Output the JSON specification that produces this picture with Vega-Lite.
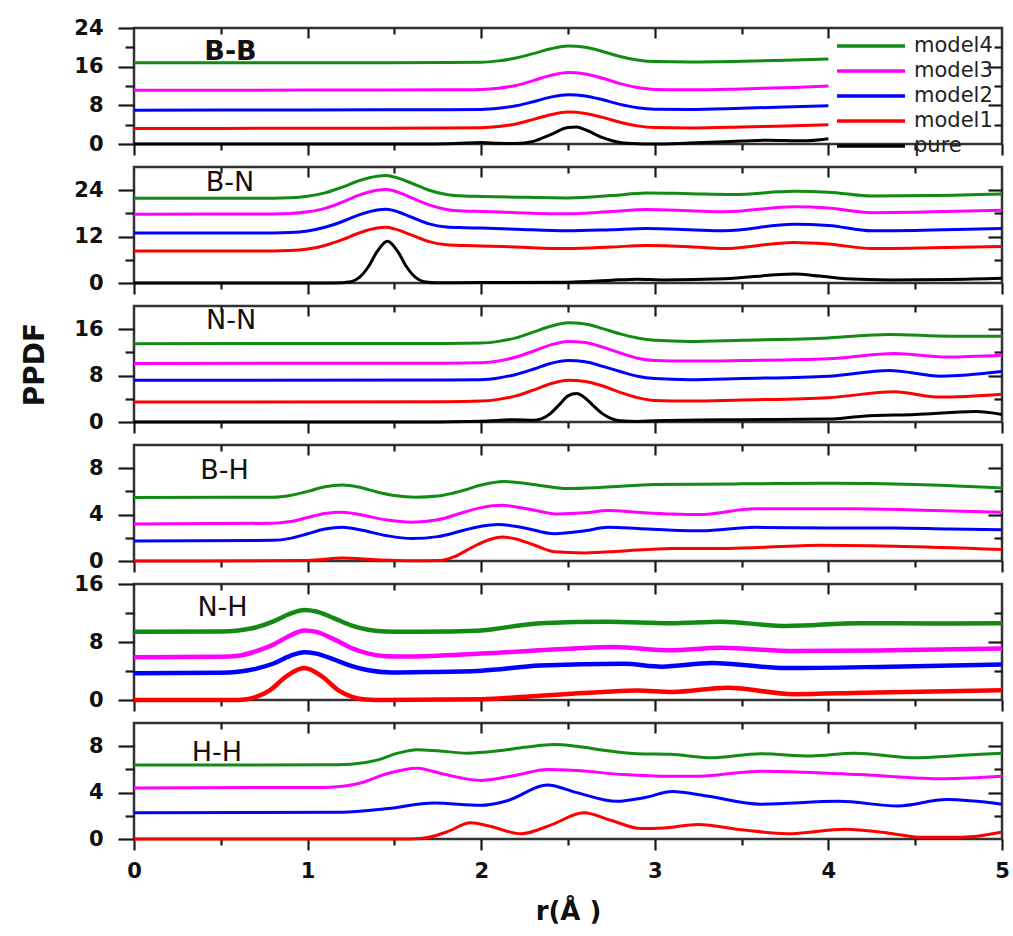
{
"$schema":"https://vega.github.io/schema/vega-lite/v6.json",
"padding":{"left":20,"top":15,"right":5,"bottom":5},
"bounds":"flush",
"spacing":23,
"resolve":{"scale":{"x":"independent","y":"independent","color":"independent"}},
"config":{
 "view":{"stroke":"#333","strokeWidth":2.5},
 "axis":{"grid":false,"domain":false,"tickColor":"#1a1a1a","tickWidth":2.2,"labelFont":"DejaVu Sans","labelFontWeight":"bold","labelFontSize":21,"labelColor":"#111","labelFlush":false,"labelOverlap":false,"titleFont":"DejaVu Sans","titleFontWeight":"bold","titleColor":"#111"}
},
"data":{"values":[
{"p":"B-B","s":"model4","r":0,"v":16.8},{"p":"B-B","s":"model4","r":1,"v":16.8},{"p":"B-B","s":"model4","r":1.8,"v":16.85},{"p":"B-B","s":"model4","r":2,"v":16.9},{"p":"B-B","s":"model4","r":2.1,"v":17.2},{"p":"B-B","s":"model4","r":2.2,"v":17.8},{"p":"B-B","s":"model4","r":2.3,"v":18.7},{"p":"B-B","s":"model4","r":2.4,"v":19.7},{"p":"B-B","s":"model4","r":2.5,"v":20.3},{"p":"B-B","s":"model4","r":2.6,"v":20.0},{"p":"B-B","s":"model4","r":2.7,"v":19.15},{"p":"B-B","s":"model4","r":2.8,"v":18.1},{"p":"B-B","s":"model4","r":2.9,"v":17.4},{"p":"B-B","s":"model4","r":3,"v":17.05},{"p":"B-B","s":"model4","r":3.2,"v":16.95},{"p":"B-B","s":"model4","r":3.5,"v":17.1},{"p":"B-B","s":"model4","r":3.8,"v":17.4},{"p":"B-B","s":"model4","r":4,"v":17.6},
{"p":"B-B","s":"model3","r":0,"v":11.1},{"p":"B-B","s":"model3","r":1,"v":11.15},{"p":"B-B","s":"model3","r":1.8,"v":11.2},{"p":"B-B","s":"model3","r":2,"v":11.3},{"p":"B-B","s":"model3","r":2.1,"v":11.55},{"p":"B-B","s":"model3","r":2.2,"v":12.1},{"p":"B-B","s":"model3","r":2.3,"v":13.1},{"p":"B-B","s":"model3","r":2.4,"v":14.2},{"p":"B-B","s":"model3","r":2.5,"v":14.8},{"p":"B-B","s":"model3","r":2.6,"v":14.5},{"p":"B-B","s":"model3","r":2.7,"v":13.6},{"p":"B-B","s":"model3","r":2.8,"v":12.5},{"p":"B-B","s":"model3","r":2.9,"v":11.7},{"p":"B-B","s":"model3","r":3,"v":11.3},{"p":"B-B","s":"model3","r":3.2,"v":11.2},{"p":"B-B","s":"model3","r":3.5,"v":11.4},{"p":"B-B","s":"model3","r":3.8,"v":11.7},{"p":"B-B","s":"model3","r":4,"v":12.0},
{"p":"B-B","s":"model2","r":0,"v":7.0},{"p":"B-B","s":"model2","r":1,"v":7.05},{"p":"B-B","s":"model2","r":1.8,"v":7.1},{"p":"B-B","s":"model2","r":2,"v":7.15},{"p":"B-B","s":"model2","r":2.1,"v":7.4},{"p":"B-B","s":"model2","r":2.2,"v":7.9},{"p":"B-B","s":"model2","r":2.3,"v":8.75},{"p":"B-B","s":"model2","r":2.4,"v":9.7},{"p":"B-B","s":"model2","r":2.5,"v":10.2},{"p":"B-B","s":"model2","r":2.6,"v":9.95},{"p":"B-B","s":"model2","r":2.7,"v":9.15},{"p":"B-B","s":"model2","r":2.8,"v":8.2},{"p":"B-B","s":"model2","r":2.9,"v":7.5},{"p":"B-B","s":"model2","r":3,"v":7.2},{"p":"B-B","s":"model2","r":3.2,"v":7.15},{"p":"B-B","s":"model2","r":3.5,"v":7.4},{"p":"B-B","s":"model2","r":3.8,"v":7.7},{"p":"B-B","s":"model2","r":4,"v":7.9},
{"p":"B-B","s":"model1","r":0,"v":3.2},{"p":"B-B","s":"model1","r":1,"v":3.25},{"p":"B-B","s":"model1","r":1.8,"v":3.3},{"p":"B-B","s":"model1","r":2,"v":3.35},{"p":"B-B","s":"model1","r":2.1,"v":3.6},{"p":"B-B","s":"model1","r":2.2,"v":4.15},{"p":"B-B","s":"model1","r":2.3,"v":5.1},{"p":"B-B","s":"model1","r":2.4,"v":6.05},{"p":"B-B","s":"model1","r":2.5,"v":6.6},{"p":"B-B","s":"model1","r":2.6,"v":6.3},{"p":"B-B","s":"model1","r":2.7,"v":5.5},{"p":"B-B","s":"model1","r":2.8,"v":4.5},{"p":"B-B","s":"model1","r":2.9,"v":3.75},{"p":"B-B","s":"model1","r":3,"v":3.4},{"p":"B-B","s":"model1","r":3.2,"v":3.3},{"p":"B-B","s":"model1","r":3.5,"v":3.5},{"p":"B-B","s":"model1","r":3.8,"v":3.8},{"p":"B-B","s":"model1","r":4,"v":4.0},
{"p":"B-B","s":"pure","r":0,"v":0},{"p":"B-B","s":"pure","r":1.7,"v":0},{"p":"B-B","s":"pure","r":1.85,"v":0.1},{"p":"B-B","s":"pure","r":2,"v":0.3},{"p":"B-B","s":"pure","r":2.1,"v":0.15},{"p":"B-B","s":"pure","r":2.2,"v":0.1},{"p":"B-B","s":"pure","r":2.3,"v":0.55},{"p":"B-B","s":"pure","r":2.4,"v":1.95},{"p":"B-B","s":"pure","r":2.5,"v":3.4},{"p":"B-B","s":"pure","r":2.55,"v":3.5},{"p":"B-B","s":"pure","r":2.6,"v":2.95},{"p":"B-B","s":"pure","r":2.7,"v":1.3},{"p":"B-B","s":"pure","r":2.8,"v":0.3},{"p":"B-B","s":"pure","r":2.9,"v":0.05},{"p":"B-B","s":"pure","r":3,"v":0},{"p":"B-B","s":"pure","r":3.2,"v":0.2},{"p":"B-B","s":"pure","r":3.5,"v":0.6},{"p":"B-B","s":"pure","r":3.65,"v":0.8},{"p":"B-B","s":"pure","r":3.85,"v":0.65},{"p":"B-B","s":"pure","r":4,"v":1.1},
{"p":"B-N","s":"model4","r":0,"v":21.9},{"p":"B-N","s":"model4","r":0.8,"v":21.95},{"p":"B-N","s":"model4","r":0.9,"v":22.05},{"p":"B-N","s":"model4","r":1,"v":22.45},{"p":"B-N","s":"model4","r":1.1,"v":23.3},{"p":"B-N","s":"model4","r":1.2,"v":24.8},{"p":"B-N","s":"model4","r":1.3,"v":26.5},{"p":"B-N","s":"model4","r":1.4,"v":27.6},{"p":"B-N","s":"model4","r":1.45,"v":27.8},{"p":"B-N","s":"model4","r":1.5,"v":27.4},{"p":"B-N","s":"model4","r":1.6,"v":25.8},{"p":"B-N","s":"model4","r":1.7,"v":24.0},{"p":"B-N","s":"model4","r":1.8,"v":22.9},{"p":"B-N","s":"model4","r":1.9,"v":22.5},{"p":"B-N","s":"model4","r":2,"v":22.4},{"p":"B-N","s":"model4","r":2.2,"v":22.2},{"p":"B-N","s":"model4","r":2.5,"v":22.0},{"p":"B-N","s":"model4","r":2.75,"v":22.6},{"p":"B-N","s":"model4","r":2.95,"v":23.3},{"p":"B-N","s":"model4","r":3.2,"v":23.1},{"p":"B-N","s":"model4","r":3.45,"v":22.9},{"p":"B-N","s":"model4","r":3.8,"v":23.7},{"p":"B-N","s":"model4","r":4,"v":23.5},{"p":"B-N","s":"model4","r":4.25,"v":22.5},{"p":"B-N","s":"model4","r":4.6,"v":22.6},{"p":"B-N","s":"model4","r":5,"v":23.0},
{"p":"B-N","s":"model3","r":0,"v":17.8},{"p":"B-N","s":"model3","r":0.8,"v":17.85},{"p":"B-N","s":"model3","r":0.9,"v":17.95},{"p":"B-N","s":"model3","r":1,"v":18.4},{"p":"B-N","s":"model3","r":1.1,"v":19.3},{"p":"B-N","s":"model3","r":1.2,"v":20.9},{"p":"B-N","s":"model3","r":1.3,"v":22.8},{"p":"B-N","s":"model3","r":1.4,"v":24.0},{"p":"B-N","s":"model3","r":1.45,"v":24.2},{"p":"B-N","s":"model3","r":1.5,"v":23.8},{"p":"B-N","s":"model3","r":1.6,"v":22.0},{"p":"B-N","s":"model3","r":1.7,"v":20.2},{"p":"B-N","s":"model3","r":1.8,"v":19.0},{"p":"B-N","s":"model3","r":1.9,"v":18.6},{"p":"B-N","s":"model3","r":2,"v":18.5},{"p":"B-N","s":"model3","r":2.2,"v":18.2},{"p":"B-N","s":"model3","r":2.5,"v":17.9},{"p":"B-N","s":"model3","r":2.75,"v":18.5},{"p":"B-N","s":"model3","r":2.95,"v":19.0},{"p":"B-N","s":"model3","r":3.2,"v":18.7},{"p":"B-N","s":"model3","r":3.4,"v":18.4},{"p":"B-N","s":"model3","r":3.8,"v":19.7},{"p":"B-N","s":"model3","r":4,"v":19.4},{"p":"B-N","s":"model3","r":4.25,"v":18.2},{"p":"B-N","s":"model3","r":4.6,"v":18.4},{"p":"B-N","s":"model3","r":5,"v":18.8},
{"p":"B-N","s":"model2","r":0,"v":12.9},{"p":"B-N","s":"model2","r":0.8,"v":12.95},{"p":"B-N","s":"model2","r":0.9,"v":13.05},{"p":"B-N","s":"model2","r":1,"v":13.45},{"p":"B-N","s":"model2","r":1.1,"v":14.4},{"p":"B-N","s":"model2","r":1.2,"v":15.9},{"p":"B-N","s":"model2","r":1.3,"v":17.7},{"p":"B-N","s":"model2","r":1.4,"v":18.9},{"p":"B-N","s":"model2","r":1.45,"v":19.1},{"p":"B-N","s":"model2","r":1.5,"v":18.7},{"p":"B-N","s":"model2","r":1.6,"v":17.0},{"p":"B-N","s":"model2","r":1.7,"v":15.3},{"p":"B-N","s":"model2","r":1.8,"v":14.5},{"p":"B-N","s":"model2","r":1.9,"v":14.3},{"p":"B-N","s":"model2","r":2,"v":14.2},{"p":"B-N","s":"model2","r":2.2,"v":13.9},{"p":"B-N","s":"model2","r":2.5,"v":13.5},{"p":"B-N","s":"model2","r":2.75,"v":13.8},{"p":"B-N","s":"model2","r":2.95,"v":14.1},{"p":"B-N","s":"model2","r":3.2,"v":13.8},{"p":"B-N","s":"model2","r":3.4,"v":13.5},{"p":"B-N","s":"model2","r":3.8,"v":15.2},{"p":"B-N","s":"model2","r":4,"v":14.9},{"p":"B-N","s":"model2","r":4.25,"v":13.5},{"p":"B-N","s":"model2","r":4.6,"v":13.7},{"p":"B-N","s":"model2","r":5,"v":14.1},
{"p":"B-N","s":"model1","r":0,"v":8.25},{"p":"B-N","s":"model1","r":0.8,"v":8.3},{"p":"B-N","s":"model1","r":0.9,"v":8.4},{"p":"B-N","s":"model1","r":1,"v":8.8},{"p":"B-N","s":"model1","r":1.1,"v":9.7},{"p":"B-N","s":"model1","r":1.2,"v":11.2},{"p":"B-N","s":"model1","r":1.3,"v":13.0},{"p":"B-N","s":"model1","r":1.4,"v":14.2},{"p":"B-N","s":"model1","r":1.45,"v":14.4},{"p":"B-N","s":"model1","r":1.5,"v":14.0},{"p":"B-N","s":"model1","r":1.6,"v":12.4},{"p":"B-N","s":"model1","r":1.7,"v":10.7},{"p":"B-N","s":"model1","r":1.8,"v":9.9},{"p":"B-N","s":"model1","r":1.9,"v":9.7},{"p":"B-N","s":"model1","r":2,"v":9.6},{"p":"B-N","s":"model1","r":2.2,"v":9.3},{"p":"B-N","s":"model1","r":2.5,"v":8.9},{"p":"B-N","s":"model1","r":2.75,"v":9.3},{"p":"B-N","s":"model1","r":2.95,"v":9.7},{"p":"B-N","s":"model1","r":3.2,"v":9.4},{"p":"B-N","s":"model1","r":3.4,"v":8.9},{"p":"B-N","s":"model1","r":3.8,"v":10.5},{"p":"B-N","s":"model1","r":4,"v":10.1},{"p":"B-N","s":"model1","r":4.25,"v":8.9},{"p":"B-N","s":"model1","r":4.6,"v":9.1},{"p":"B-N","s":"model1","r":5,"v":9.45},
{"p":"B-N","s":"pure","r":0,"v":0},{"p":"B-N","s":"pure","r":1.15,"v":0},{"p":"B-N","s":"pure","r":1.25,"v":0.35},{"p":"B-N","s":"pure","r":1.3,"v":1.5},{"p":"B-N","s":"pure","r":1.35,"v":4.2},{"p":"B-N","s":"pure","r":1.4,"v":8.1},{"p":"B-N","s":"pure","r":1.46,"v":10.8},{"p":"B-N","s":"pure","r":1.52,"v":8.1},{"p":"B-N","s":"pure","r":1.57,"v":4.2},{"p":"B-N","s":"pure","r":1.62,"v":1.5},{"p":"B-N","s":"pure","r":1.67,"v":0.35},{"p":"B-N","s":"pure","r":1.75,"v":0.05},{"p":"B-N","s":"pure","r":2,"v":0.1},{"p":"B-N","s":"pure","r":2.5,"v":0.2},{"p":"B-N","s":"pure","r":2.75,"v":0.7},{"p":"B-N","s":"pure","r":2.9,"v":1.0},{"p":"B-N","s":"pure","r":3.05,"v":0.8},{"p":"B-N","s":"pure","r":3.4,"v":1.1},{"p":"B-N","s":"pure","r":3.8,"v":2.3},{"p":"B-N","s":"pure","r":3.95,"v":1.8},{"p":"B-N","s":"pure","r":4.1,"v":1.1},{"p":"B-N","s":"pure","r":4.35,"v":0.8},{"p":"B-N","s":"pure","r":4.7,"v":0.9},{"p":"B-N","s":"pure","r":5,"v":1.2},
{"p":"N-N","s":"model4","r":0,"v":13.5},{"p":"N-N","s":"model4","r":1.8,"v":13.55},{"p":"N-N","s":"model4","r":2,"v":13.6},{"p":"N-N","s":"model4","r":2.1,"v":13.9},{"p":"N-N","s":"model4","r":2.2,"v":14.5},{"p":"N-N","s":"model4","r":2.3,"v":15.5},{"p":"N-N","s":"model4","r":2.4,"v":16.5},{"p":"N-N","s":"model4","r":2.5,"v":17.1},{"p":"N-N","s":"model4","r":2.6,"v":16.9},{"p":"N-N","s":"model4","r":2.7,"v":16.1},{"p":"N-N","s":"model4","r":2.8,"v":15.2},{"p":"N-N","s":"model4","r":2.9,"v":14.5},{"p":"N-N","s":"model4","r":3,"v":14.1},{"p":"N-N","s":"model4","r":3.2,"v":13.9},{"p":"N-N","s":"model4","r":3.5,"v":14.1},{"p":"N-N","s":"model4","r":4,"v":14.5},{"p":"N-N","s":"model4","r":4.35,"v":15.1},{"p":"N-N","s":"model4","r":4.7,"v":14.8},{"p":"N-N","s":"model4","r":5,"v":14.8},
{"p":"N-N","s":"model3","r":0,"v":10.1},{"p":"N-N","s":"model3","r":1.8,"v":10.15},{"p":"N-N","s":"model3","r":2,"v":10.2},{"p":"N-N","s":"model3","r":2.1,"v":10.5},{"p":"N-N","s":"model3","r":2.2,"v":11.2},{"p":"N-N","s":"model3","r":2.3,"v":12.2},{"p":"N-N","s":"model3","r":2.4,"v":13.3},{"p":"N-N","s":"model3","r":2.5,"v":13.9},{"p":"N-N","s":"model3","r":2.6,"v":13.7},{"p":"N-N","s":"model3","r":2.7,"v":12.9},{"p":"N-N","s":"model3","r":2.8,"v":11.9},{"p":"N-N","s":"model3","r":2.9,"v":11.0},{"p":"N-N","s":"model3","r":3,"v":10.6},{"p":"N-N","s":"model3","r":3.2,"v":10.5},{"p":"N-N","s":"model3","r":3.5,"v":10.6},{"p":"N-N","s":"model3","r":4,"v":10.9},{"p":"N-N","s":"model3","r":4.38,"v":11.8},{"p":"N-N","s":"model3","r":4.68,"v":11.2},{"p":"N-N","s":"model3","r":5,"v":11.5},
{"p":"N-N","s":"model2","r":0,"v":7.2},{"p":"N-N","s":"model2","r":1.8,"v":7.25},{"p":"N-N","s":"model2","r":2,"v":7.3},{"p":"N-N","s":"model2","r":2.1,"v":7.6},{"p":"N-N","s":"model2","r":2.2,"v":8.2},{"p":"N-N","s":"model2","r":2.3,"v":9.1},{"p":"N-N","s":"model2","r":2.4,"v":10.1},{"p":"N-N","s":"model2","r":2.5,"v":10.6},{"p":"N-N","s":"model2","r":2.6,"v":10.4},{"p":"N-N","s":"model2","r":2.7,"v":9.6},{"p":"N-N","s":"model2","r":2.8,"v":8.7},{"p":"N-N","s":"model2","r":2.9,"v":7.9},{"p":"N-N","s":"model2","r":3,"v":7.5},{"p":"N-N","s":"model2","r":3.2,"v":7.3},{"p":"N-N","s":"model2","r":3.5,"v":7.5},{"p":"N-N","s":"model2","r":4,"v":7.9},{"p":"N-N","s":"model2","r":4.35,"v":8.9},{"p":"N-N","s":"model2","r":4.65,"v":7.9},{"p":"N-N","s":"model2","r":5,"v":8.7},
{"p":"N-N","s":"model1","r":0,"v":3.45},{"p":"N-N","s":"model1","r":1.8,"v":3.5},{"p":"N-N","s":"model1","r":2,"v":3.6},{"p":"N-N","s":"model1","r":2.1,"v":3.9},{"p":"N-N","s":"model1","r":2.2,"v":4.5},{"p":"N-N","s":"model1","r":2.3,"v":5.5},{"p":"N-N","s":"model1","r":2.4,"v":6.6},{"p":"N-N","s":"model1","r":2.5,"v":7.2},{"p":"N-N","s":"model1","r":2.6,"v":7.0},{"p":"N-N","s":"model1","r":2.7,"v":6.2},{"p":"N-N","s":"model1","r":2.8,"v":5.1},{"p":"N-N","s":"model1","r":2.9,"v":4.2},{"p":"N-N","s":"model1","r":3,"v":3.7},{"p":"N-N","s":"model1","r":3.2,"v":3.6},{"p":"N-N","s":"model1","r":3.5,"v":3.8},{"p":"N-N","s":"model1","r":4,"v":4.2},{"p":"N-N","s":"model1","r":4.38,"v":5.2},{"p":"N-N","s":"model1","r":4.64,"v":4.3},{"p":"N-N","s":"model1","r":5,"v":4.8},
{"p":"N-N","s":"pure","r":0,"v":0},{"p":"N-N","s":"pure","r":1.5,"v":0},{"p":"N-N","s":"pure","r":2,"v":0.15},{"p":"N-N","s":"pure","r":2.2,"v":0.4},{"p":"N-N","s":"pure","r":2.3,"v":0.3},{"p":"N-N","s":"pure","r":2.35,"v":0.6},{"p":"N-N","s":"pure","r":2.4,"v":1.5},{"p":"N-N","s":"pure","r":2.45,"v":3.0},{"p":"N-N","s":"pure","r":2.5,"v":4.5},{"p":"N-N","s":"pure","r":2.55,"v":4.9},{"p":"N-N","s":"pure","r":2.6,"v":4.1},{"p":"N-N","s":"pure","r":2.65,"v":2.7},{"p":"N-N","s":"pure","r":2.7,"v":1.4},{"p":"N-N","s":"pure","r":2.75,"v":0.6},{"p":"N-N","s":"pure","r":2.8,"v":0.2},{"p":"N-N","s":"pure","r":2.9,"v":0.1},{"p":"N-N","s":"pure","r":3,"v":0.2},{"p":"N-N","s":"pure","r":3.5,"v":0.4},{"p":"N-N","s":"pure","r":4,"v":0.5},{"p":"N-N","s":"pure","r":4.2,"v":1.0},{"p":"N-N","s":"pure","r":4.5,"v":1.3},{"p":"N-N","s":"pure","r":4.85,"v":1.8},{"p":"N-N","s":"pure","r":5,"v":1.3},
{"p":"B-H","s":"model4","r":0,"v":5.47},{"p":"B-H","s":"model4","r":0.8,"v":5.5},{"p":"B-H","s":"model4","r":0.9,"v":5.65},{"p":"B-H","s":"model4","r":1,"v":6.0},{"p":"B-H","s":"model4","r":1.1,"v":6.4},{"p":"B-H","s":"model4","r":1.2,"v":6.55},{"p":"B-H","s":"model4","r":1.3,"v":6.35},{"p":"B-H","s":"model4","r":1.4,"v":5.95},{"p":"B-H","s":"model4","r":1.5,"v":5.65},{"p":"B-H","s":"model4","r":1.62,"v":5.5},{"p":"B-H","s":"model4","r":1.75,"v":5.6},{"p":"B-H","s":"model4","r":1.9,"v":6.1},{"p":"B-H","s":"model4","r":2,"v":6.55},{"p":"B-H","s":"model4","r":2.13,"v":6.85},{"p":"B-H","s":"model4","r":2.3,"v":6.6},{"p":"B-H","s":"model4","r":2.5,"v":6.25},{"p":"B-H","s":"model4","r":2.7,"v":6.35},{"p":"B-H","s":"model4","r":3,"v":6.6},{"p":"B-H","s":"model4","r":3.5,"v":6.65},{"p":"B-H","s":"model4","r":4,"v":6.7},{"p":"B-H","s":"model4","r":4.5,"v":6.6},{"p":"B-H","s":"model4","r":5,"v":6.3},
{"p":"B-H","s":"model3","r":0,"v":3.2},{"p":"B-H","s":"model3","r":0.8,"v":3.25},{"p":"B-H","s":"model3","r":0.9,"v":3.4},{"p":"B-H","s":"model3","r":1,"v":3.75},{"p":"B-H","s":"model3","r":1.1,"v":4.1},{"p":"B-H","s":"model3","r":1.2,"v":4.2},{"p":"B-H","s":"model3","r":1.3,"v":4.0},{"p":"B-H","s":"model3","r":1.45,"v":3.55},{"p":"B-H","s":"model3","r":1.6,"v":3.35},{"p":"B-H","s":"model3","r":1.75,"v":3.55},{"p":"B-H","s":"model3","r":1.9,"v":4.2},{"p":"B-H","s":"model3","r":2,"v":4.6},{"p":"B-H","s":"model3","r":2.12,"v":4.8},{"p":"B-H","s":"model3","r":2.3,"v":4.4},{"p":"B-H","s":"model3","r":2.44,"v":4.05},{"p":"B-H","s":"model3","r":2.6,"v":4.15},{"p":"B-H","s":"model3","r":2.73,"v":4.35},{"p":"B-H","s":"model3","r":2.9,"v":4.2},{"p":"B-H","s":"model3","r":3.1,"v":4.05},{"p":"B-H","s":"model3","r":3.25,"v":4.0},{"p":"B-H","s":"model3","r":3.58,"v":4.5},{"p":"B-H","s":"model3","r":4.15,"v":4.5},{"p":"B-H","s":"model3","r":4.6,"v":4.35},{"p":"B-H","s":"model3","r":5,"v":4.2},
{"p":"B-H","s":"model2","r":0,"v":1.73},{"p":"B-H","s":"model2","r":0.8,"v":1.78},{"p":"B-H","s":"model2","r":0.9,"v":1.95},{"p":"B-H","s":"model2","r":1,"v":2.35},{"p":"B-H","s":"model2","r":1.1,"v":2.75},{"p":"B-H","s":"model2","r":1.2,"v":2.9},{"p":"B-H","s":"model2","r":1.3,"v":2.7},{"p":"B-H","s":"model2","r":1.45,"v":2.2},{"p":"B-H","s":"model2","r":1.6,"v":1.93},{"p":"B-H","s":"model2","r":1.75,"v":2.1},{"p":"B-H","s":"model2","r":1.9,"v":2.65},{"p":"B-H","s":"model2","r":2,"v":3.0},{"p":"B-H","s":"model2","r":2.1,"v":3.15},{"p":"B-H","s":"model2","r":2.25,"v":2.85},{"p":"B-H","s":"model2","r":2.42,"v":2.35},{"p":"B-H","s":"model2","r":2.6,"v":2.6},{"p":"B-H","s":"model2","r":2.73,"v":2.9},{"p":"B-H","s":"model2","r":2.9,"v":2.8},{"p":"B-H","s":"model2","r":3.1,"v":2.65},{"p":"B-H","s":"model2","r":3.27,"v":2.6},{"p":"B-H","s":"model2","r":3.58,"v":2.9},{"p":"B-H","s":"model2","r":4,"v":2.85},{"p":"B-H","s":"model2","r":4.38,"v":2.85},{"p":"B-H","s":"model2","r":4.7,"v":2.75},{"p":"B-H","s":"model2","r":5,"v":2.7},
{"p":"B-H","s":"model1","r":0,"v":0},{"p":"B-H","s":"model1","r":1,"v":0.05},{"p":"B-H","s":"model1","r":1.2,"v":0.25},{"p":"B-H","s":"model1","r":1.4,"v":0.1},{"p":"B-H","s":"model1","r":1.6,"v":0.02},{"p":"B-H","s":"model1","r":1.77,"v":0.05},{"p":"B-H","s":"model1","r":1.85,"v":0.4},{"p":"B-H","s":"model1","r":1.95,"v":1.2},{"p":"B-H","s":"model1","r":2.05,"v":1.85},{"p":"B-H","s":"model1","r":2.12,"v":2.07},{"p":"B-H","s":"model1","r":2.2,"v":1.9},{"p":"B-H","s":"model1","r":2.3,"v":1.4},{"p":"B-H","s":"model1","r":2.42,"v":0.8},{"p":"B-H","s":"model1","r":2.6,"v":0.7},{"p":"B-H","s":"model1","r":2.8,"v":0.85},{"p":"B-H","s":"model1","r":3.1,"v":1.08},{"p":"B-H","s":"model1","r":3.42,"v":1.08},{"p":"B-H","s":"model1","r":3.96,"v":1.36},{"p":"B-H","s":"model1","r":4.38,"v":1.28},{"p":"B-H","s":"model1","r":5,"v":1.0},
{"p":"N-H","s":"model4","r":0,"v":9.4},{"p":"N-H","s":"model4","r":0.5,"v":9.45},{"p":"N-H","s":"model4","r":0.6,"v":9.6},{"p":"N-H","s":"model4","r":0.7,"v":10.0},{"p":"N-H","s":"model4","r":0.8,"v":10.8},{"p":"N-H","s":"model4","r":0.9,"v":11.9},{"p":"N-H","s":"model4","r":0.98,"v":12.4},{"p":"N-H","s":"model4","r":1.05,"v":12.2},{"p":"N-H","s":"model4","r":1.15,"v":11.3},{"p":"N-H","s":"model4","r":1.25,"v":10.3},{"p":"N-H","s":"model4","r":1.35,"v":9.7},{"p":"N-H","s":"model4","r":1.45,"v":9.45},{"p":"N-H","s":"model4","r":1.58,"v":9.4},{"p":"N-H","s":"model4","r":1.8,"v":9.45},{"p":"N-H","s":"model4","r":2,"v":9.6},{"p":"N-H","s":"model4","r":2.34,"v":10.6},{"p":"N-H","s":"model4","r":2.73,"v":10.8},{"p":"N-H","s":"model4","r":3.09,"v":10.6},{"p":"N-H","s":"model4","r":3.38,"v":10.8},{"p":"N-H","s":"model4","r":3.76,"v":10.2},{"p":"N-H","s":"model4","r":4.18,"v":10.6},{"p":"N-H","s":"model4","r":4.6,"v":10.55},{"p":"N-H","s":"model4","r":5,"v":10.6},
{"p":"N-H","s":"model3","r":0,"v":5.9},{"p":"N-H","s":"model3","r":0.5,"v":5.95},{"p":"N-H","s":"model3","r":0.6,"v":6.1},{"p":"N-H","s":"model3","r":0.7,"v":6.7},{"p":"N-H","s":"model3","r":0.8,"v":7.6},{"p":"N-H","s":"model3","r":0.9,"v":8.9},{"p":"N-H","s":"model3","r":0.98,"v":9.6},{"p":"N-H","s":"model3","r":1.05,"v":9.4},{"p":"N-H","s":"model3","r":1.15,"v":8.4},{"p":"N-H","s":"model3","r":1.25,"v":7.2},{"p":"N-H","s":"model3","r":1.35,"v":6.4},{"p":"N-H","s":"model3","r":1.45,"v":6.05},{"p":"N-H","s":"model3","r":1.58,"v":6.0},{"p":"N-H","s":"model3","r":2,"v":6.4},{"p":"N-H","s":"model3","r":2.53,"v":7.1},{"p":"N-H","s":"model3","r":2.77,"v":7.3},{"p":"N-H","s":"model3","r":3.09,"v":6.85},{"p":"N-H","s":"model3","r":3.38,"v":7.2},{"p":"N-H","s":"model3","r":3.8,"v":6.75},{"p":"N-H","s":"model3","r":4.36,"v":6.85},{"p":"N-H","s":"model3","r":5,"v":7.1},
{"p":"N-H","s":"model2","r":0,"v":3.7},{"p":"N-H","s":"model2","r":0.5,"v":3.75},{"p":"N-H","s":"model2","r":0.6,"v":3.9},{"p":"N-H","s":"model2","r":0.7,"v":4.3},{"p":"N-H","s":"model2","r":0.8,"v":5.0},{"p":"N-H","s":"model2","r":0.9,"v":6.1},{"p":"N-H","s":"model2","r":0.98,"v":6.6},{"p":"N-H","s":"model2","r":1.05,"v":6.4},{"p":"N-H","s":"model2","r":1.15,"v":5.6},{"p":"N-H","s":"model2","r":1.25,"v":4.7},{"p":"N-H","s":"model2","r":1.35,"v":4.1},{"p":"N-H","s":"model2","r":1.48,"v":3.8},{"p":"N-H","s":"model2","r":1.7,"v":3.85},{"p":"N-H","s":"model2","r":2,"v":4.05},{"p":"N-H","s":"model2","r":2.34,"v":4.75},{"p":"N-H","s":"model2","r":2.82,"v":5.0},{"p":"N-H","s":"model2","r":3.04,"v":4.6},{"p":"N-H","s":"model2","r":3.33,"v":5.1},{"p":"N-H","s":"model2","r":3.76,"v":4.4},{"p":"N-H","s":"model2","r":4.36,"v":4.6},{"p":"N-H","s":"model2","r":5,"v":4.9},
{"p":"N-H","s":"model1","r":0,"v":0},{"p":"N-H","s":"model1","r":0.6,"v":0},{"p":"N-H","s":"model1","r":0.65,"v":0.1},{"p":"N-H","s":"model1","r":0.7,"v":0.4},{"p":"N-H","s":"model1","r":0.78,"v":1.3},{"p":"N-H","s":"model1","r":0.88,"v":3.3},{"p":"N-H","s":"model1","r":0.98,"v":4.4},{"p":"N-H","s":"model1","r":1.08,"v":3.3},{"p":"N-H","s":"model1","r":1.18,"v":1.3},{"p":"N-H","s":"model1","r":1.26,"v":0.4},{"p":"N-H","s":"model1","r":1.32,"v":0.1},{"p":"N-H","s":"model1","r":1.4,"v":0},{"p":"N-H","s":"model1","r":2,"v":0.1},{"p":"N-H","s":"model1","r":2.34,"v":0.6},{"p":"N-H","s":"model1","r":2.7,"v":1.1},{"p":"N-H","s":"model1","r":2.9,"v":1.3},{"p":"N-H","s":"model1","r":3.1,"v":1.1},{"p":"N-H","s":"model1","r":3.42,"v":1.7},{"p":"N-H","s":"model1","r":3.8,"v":0.8},{"p":"N-H","s":"model1","r":4.2,"v":1.0},{"p":"N-H","s":"model1","r":5,"v":1.35},
{"p":"H-H","s":"model4","r":0,"v":6.37},{"p":"H-H","s":"model4","r":1.1,"v":6.4},{"p":"H-H","s":"model4","r":1.25,"v":6.45},{"p":"H-H","s":"model4","r":1.4,"v":6.8},{"p":"H-H","s":"model4","r":1.52,"v":7.4},{"p":"H-H","s":"model4","r":1.63,"v":7.7},{"p":"H-H","s":"model4","r":1.75,"v":7.6},{"p":"H-H","s":"model4","r":1.92,"v":7.4},{"p":"H-H","s":"model4","r":2.1,"v":7.6},{"p":"H-H","s":"model4","r":2.25,"v":7.9},{"p":"H-H","s":"model4","r":2.42,"v":8.15},{"p":"H-H","s":"model4","r":2.55,"v":8.0},{"p":"H-H","s":"model4","r":2.73,"v":7.6},{"p":"H-H","s":"model4","r":2.9,"v":7.35},{"p":"H-H","s":"model4","r":3.09,"v":7.3},{"p":"H-H","s":"model4","r":3.32,"v":7.0},{"p":"H-H","s":"model4","r":3.61,"v":7.35},{"p":"H-H","s":"model4","r":3.9,"v":7.15},{"p":"H-H","s":"model4","r":4.15,"v":7.4},{"p":"H-H","s":"model4","r":4.5,"v":7.0},{"p":"H-H","s":"model4","r":4.75,"v":7.2},{"p":"H-H","s":"model4","r":5,"v":7.4},
{"p":"H-H","s":"model3","r":0,"v":4.4},{"p":"H-H","s":"model3","r":1.1,"v":4.45},{"p":"H-H","s":"model3","r":1.3,"v":4.8},{"p":"H-H","s":"model3","r":1.45,"v":5.6},{"p":"H-H","s":"model3","r":1.63,"v":6.1},{"p":"H-H","s":"model3","r":1.78,"v":5.6},{"p":"H-H","s":"model3","r":2,"v":5.05},{"p":"H-H","s":"model3","r":2.2,"v":5.5},{"p":"H-H","s":"model3","r":2.38,"v":6.0},{"p":"H-H","s":"model3","r":2.55,"v":5.9},{"p":"H-H","s":"model3","r":2.82,"v":5.55},{"p":"H-H","s":"model3","r":3.09,"v":5.4},{"p":"H-H","s":"model3","r":3.23,"v":5.4},{"p":"H-H","s":"model3","r":3.61,"v":5.85},{"p":"H-H","s":"model3","r":4.18,"v":5.55},{"p":"H-H","s":"model3","r":4.67,"v":5.2},{"p":"H-H","s":"model3","r":5,"v":5.4},
{"p":"H-H","s":"model2","r":0,"v":2.26},{"p":"H-H","s":"model2","r":1.2,"v":2.3},{"p":"H-H","s":"model2","r":1.45,"v":2.6},{"p":"H-H","s":"model2","r":1.73,"v":3.1},{"p":"H-H","s":"model2","r":2,"v":2.9},{"p":"H-H","s":"model2","r":2.15,"v":3.3},{"p":"H-H","s":"model2","r":2.38,"v":4.65},{"p":"H-H","s":"model2","r":2.55,"v":4.0},{"p":"H-H","s":"model2","r":2.78,"v":3.25},{"p":"H-H","s":"model2","r":2.95,"v":3.6},{"p":"H-H","s":"model2","r":3.1,"v":4.1},{"p":"H-H","s":"model2","r":3.3,"v":3.7},{"p":"H-H","s":"model2","r":3.61,"v":3.0},{"p":"H-H","s":"model2","r":4.06,"v":3.25},{"p":"H-H","s":"model2","r":4.4,"v":2.85},{"p":"H-H","s":"model2","r":4.68,"v":3.4},{"p":"H-H","s":"model2","r":5,"v":3.0},
{"p":"H-H","s":"model1","r":0,"v":0},{"p":"H-H","s":"model1","r":1.6,"v":0},{"p":"H-H","s":"model1","r":1.7,"v":0.15},{"p":"H-H","s":"model1","r":1.8,"v":0.6},{"p":"H-H","s":"model1","r":1.94,"v":1.4},{"p":"H-H","s":"model1","r":2.05,"v":1.1},{"p":"H-H","s":"model1","r":2.23,"v":0.45},{"p":"H-H","s":"model1","r":2.4,"v":1.2},{"p":"H-H","s":"model1","r":2.59,"v":2.26},{"p":"H-H","s":"model1","r":2.75,"v":1.6},{"p":"H-H","s":"model1","r":2.92,"v":0.9},{"p":"H-H","s":"model1","r":3.05,"v":0.95},{"p":"H-H","s":"model1","r":3.25,"v":1.25},{"p":"H-H","s":"model1","r":3.5,"v":0.8},{"p":"H-H","s":"model1","r":3.76,"v":0.45},{"p":"H-H","s":"model1","r":4.1,"v":0.85},{"p":"H-H","s":"model1","r":4.35,"v":0.5},{"p":"H-H","s":"model1","r":4.54,"v":0.15},{"p":"H-H","s":"model1","r":4.77,"v":0.15},{"p":"H-H","s":"model1","r":5,"v":0.6}
]},
"vconcat":[
{"width":868,"height":116,"transform":[{"filter":"datum.p === 'B-B'"}],
 "resolve":{"axis":{"x":"independent","y":"independent"}},
 "layer":[
  {"mark":{"type":"line","strokeWidth":3,"interpolate":"monotone"},
   "encoding":{
    "x":{"field":"r","type":"quantitative","scale":{"domain":[0,5],"nice":false,"zero":false},"axis":{"orient":"bottom","values":[0,1,2,3,4,5],"tickSize":11,"labels":false,"title":null}},
    "y":{"field":"v","type":"quantitative","scale":{"domain":[0,24],"nice":false,"zero":false},"axis":{"orient":"left","values":[0,8,16,24],"tickSize":16,"labelPadding":15,"title":null}},
    "color":{"field":"s","type":"nominal","scale":{"domain":["model4","model3","model2","model1","pure"],"range":["#138a13","#ff00ff","#0000ff","#ff0000","#000000"]},
      "legend":{"orient":"none","legendX":701,"legendY":8,"title":null,"symbolType":"stroke","symbolSize":4624,"symbolStrokeWidth":3.5,"clipHeight":20,"rowPadding":4,"labelFontSize":21,"labelFont":"DejaVu Sans","labelColor":"#222","labelOffset":7,"padding":0}}}},
  {"mark":{"type":"line","opacity":0},"encoding":{
    "x":{"field":"r","type":"quantitative","axis":{"orient":"bottom","values":[0.5,1.5,2.5,3.5,4.5],"tickSize":6,"labels":false,"title":null}},
    "y":{"field":"v","type":"quantitative","axis":{"orient":"left","values":[4,12,20],"tickSize":9,"labels":false,"title":null}}}},
  {"mark":{"type":"line","opacity":0},"encoding":{
    "x":{"field":"r","type":"quantitative","axis":{"orient":"top","values":[1,2,3,4],"tickSize":-10,"labels":false,"title":null}},
    "y":{"field":"v","type":"quantitative","axis":{"orient":"right","values":[8,16],"tickSize":-14,"labels":false,"title":null}}}},
  {"mark":{"type":"line","opacity":0},"encoding":{
    "x":{"field":"r","type":"quantitative","axis":{"orient":"top","values":[0.5,1.5,2.5,3.5],"tickSize":-6,"labels":false,"title":null}},
    "y":{"field":"v","type":"quantitative","axis":{"orient":"right","values":[4,12,20],"tickSize":-8,"labels":false,"title":null}}}},
  {"transform":[{"filter":"datum.s === 'model4' && datum.r === 0"}],
   "mark":{"type":"text","font":"DejaVu Sans","fontSize":27,"fontWeight":"bold","color":"#111","align":"center","baseline":"middle"},
   "encoding":{"x":{"datum":0.556,"type":"quantitative","axis":null},"y":{"datum":19,"type":"quantitative","axis":null},"text":{"value":"B-B"}}}
 ]},
{"width":868,"height":116,"transform":[{"filter":"datum.p === 'B-N'"}],
 "resolve":{"axis":{"x":"independent","y":"independent"}},
 "layer":[
  {"mark":{"type":"line","strokeWidth":3,"interpolate":"monotone"},
   "encoding":{
    "x":{"field":"r","type":"quantitative","scale":{"domain":[0,5],"nice":false,"zero":false},"axis":{"orient":"bottom","values":[0,1,2,3,4,5],"tickSize":11,"labels":false,"title":null}},
    "y":{"field":"v","type":"quantitative","scale":{"domain":[0,30],"nice":false,"zero":false},"axis":{"orient":"left","values":[0,12,24],"tickSize":16,"labelPadding":15,"title":null}},
    "color":{"field":"s","type":"nominal","scale":{"domain":["model4","model3","model2","model1","pure"],"range":["#138a13","#ff00ff","#0000ff","#ff0000","#000000"]},"legend":null}}},
  {"mark":{"type":"line","opacity":0},"encoding":{
    "x":{"field":"r","type":"quantitative","axis":{"orient":"bottom","values":[0.5,1.5,2.5,3.5,4.5],"tickSize":6,"labels":false,"title":null}},
    "y":{"field":"v","type":"quantitative","axis":{"orient":"left","values":[6,18],"tickSize":9,"labels":false,"title":null}}}},
  {"mark":{"type":"line","opacity":0},"encoding":{
    "x":{"field":"r","type":"quantitative","axis":{"orient":"top","values":[1,2,3,4],"tickSize":-10,"labels":false,"title":null}},
    "y":{"field":"v","type":"quantitative","axis":{"orient":"right","values":[12,24],"tickSize":-14,"labels":false,"title":null}}}},
  {"mark":{"type":"line","opacity":0},"encoding":{
    "x":{"field":"r","type":"quantitative","axis":{"orient":"top","values":[0.5,1.5,2.5,3.5,4.5],"tickSize":-6,"labels":false,"title":null}},
    "y":{"field":"v","type":"quantitative","axis":{"orient":"right","values":[6,18],"tickSize":-8,"labels":false,"title":null}}}},
  {"transform":[{"filter":"datum.s === 'model4' && datum.r === 0"}],
   "mark":{"type":"text","font":"DejaVu Sans","fontSize":27,"color":"#111","align":"center","baseline":"middle"},
   "encoding":{"x":{"datum":0.553,"type":"quantitative","axis":null},"y":{"datum":25.8,"type":"quantitative","axis":null},"text":{"value":"B-N"}}}
 ]},
{"width":868,"height":116,"transform":[{"filter":"datum.p === 'N-N'"}],
 "resolve":{"axis":{"x":"independent","y":"independent"}},
 "layer":[
  {"mark":{"type":"line","strokeWidth":3,"interpolate":"monotone"},
   "encoding":{
    "x":{"field":"r","type":"quantitative","scale":{"domain":[0,5],"nice":false,"zero":false},"axis":{"orient":"bottom","values":[0,1,2,3,4,5],"tickSize":11,"labels":false,"title":null}},
    "y":{"field":"v","type":"quantitative","scale":{"domain":[0,20],"nice":false,"zero":false},"axis":{"orient":"left","values":[0,8,16],"tickSize":16,"labelPadding":15,"title":"PPDF","titleFontSize":28,"titlePadding":24}},
    "color":{"field":"s","type":"nominal","scale":{"domain":["model4","model3","model2","model1","pure"],"range":["#138a13","#ff00ff","#0000ff","#ff0000","#000000"]},"legend":null}}},
  {"mark":{"type":"line","opacity":0},"encoding":{
    "x":{"field":"r","type":"quantitative","axis":{"orient":"bottom","values":[0.5,1.5,2.5,3.5,4.5],"tickSize":6,"labels":false,"title":null}},
    "y":{"field":"v","type":"quantitative","axis":{"orient":"left","values":[4,12],"tickSize":9,"labels":false,"title":null}}}},
  {"mark":{"type":"line","opacity":0},"encoding":{
    "x":{"field":"r","type":"quantitative","axis":{"orient":"top","values":[1,2,3,4],"tickSize":-10,"labels":false,"title":null}},
    "y":{"field":"v","type":"quantitative","axis":{"orient":"right","values":[8,16],"tickSize":-14,"labels":false,"title":null}}}},
  {"mark":{"type":"line","opacity":0},"encoding":{
    "x":{"field":"r","type":"quantitative","axis":{"orient":"top","values":[0.5,1.5,2.5,3.5,4.5],"tickSize":-6,"labels":false,"title":null}},
    "y":{"field":"v","type":"quantitative","axis":{"orient":"right","values":[4,12],"tickSize":-8,"labels":false,"title":null}}}},
  {"transform":[{"filter":"datum.s === 'model4' && datum.r === 0"}],
   "mark":{"type":"text","font":"DejaVu Sans","fontSize":27,"color":"#111","align":"center","baseline":"middle"},
   "encoding":{"x":{"datum":0.559,"type":"quantitative","axis":null},"y":{"datum":17.4,"type":"quantitative","axis":null},"text":{"value":"N-N"}}}
 ]},
{"width":868,"height":116,"transform":[{"filter":"datum.p === 'B-H'"}],
 "resolve":{"axis":{"x":"independent","y":"independent"}},
 "layer":[
  {"mark":{"type":"line","strokeWidth":3,"interpolate":"monotone"},
   "encoding":{
    "x":{"field":"r","type":"quantitative","scale":{"domain":[0,5],"nice":false,"zero":false},"axis":{"orient":"bottom","values":[0,1,2,3,4,5],"tickSize":11,"labels":false,"title":null}},
    "y":{"field":"v","type":"quantitative","scale":{"domain":[0,10],"nice":false,"zero":false},"axis":{"orient":"left","values":[0,4,8],"tickSize":16,"labelPadding":15,"title":null}},
    "color":{"field":"s","type":"nominal","scale":{"domain":["model4","model3","model2","model1","pure"],"range":["#138a13","#ff00ff","#0000ff","#ff0000","#000000"]},"legend":null}}},
  {"mark":{"type":"line","opacity":0},"encoding":{
    "x":{"field":"r","type":"quantitative","axis":{"orient":"bottom","values":[0.5,1.5,2.5,3.5,4.5],"tickSize":6,"labels":false,"title":null}},
    "y":{"field":"v","type":"quantitative","axis":{"orient":"left","values":[2,6],"tickSize":9,"labels":false,"title":null}}}},
  {"mark":{"type":"line","opacity":0},"encoding":{
    "x":{"field":"r","type":"quantitative","axis":{"orient":"top","values":[1,2,3,4],"tickSize":-10,"labels":false,"title":null}},
    "y":{"field":"v","type":"quantitative","axis":{"orient":"right","values":[4,8],"tickSize":-14,"labels":false,"title":null}}}},
  {"mark":{"type":"line","opacity":0},"encoding":{
    "x":{"field":"r","type":"quantitative","axis":{"orient":"top","values":[0.5,1.5,2.5,3.5,4.5],"tickSize":-6,"labels":false,"title":null}},
    "y":{"field":"v","type":"quantitative","axis":{"orient":"right","values":[2,6],"tickSize":-8,"labels":false,"title":null}}}},
  {"transform":[{"filter":"datum.s === 'model4' && datum.r === 0"}],
   "mark":{"type":"text","font":"DejaVu Sans","fontSize":27,"color":"#111","align":"center","baseline":"middle"},
   "encoding":{"x":{"datum":0.521,"type":"quantitative","axis":null},"y":{"datum":7.74,"type":"quantitative","axis":null},"text":{"value":"B-H"}}}
 ]},
{"width":868,"height":116,"transform":[{"filter":"datum.p === 'N-H'"}],
 "resolve":{"axis":{"x":"independent","y":"independent"}},
 "layer":[
  {"mark":{"type":"line","strokeWidth":4.5,"interpolate":"monotone"},
   "encoding":{
    "x":{"field":"r","type":"quantitative","scale":{"domain":[0,5],"nice":false,"zero":false},"axis":{"orient":"bottom","values":[0,1,2,3,4,5],"tickSize":11,"labels":false,"title":null}},
    "y":{"field":"v","type":"quantitative","scale":{"domain":[0,16],"nice":false,"zero":false},"axis":{"orient":"left","values":[0,8,16],"tickSize":16,"labelPadding":15,"title":null}},
    "color":{"field":"s","type":"nominal","scale":{"domain":["model4","model3","model2","model1","pure"],"range":["#138a13","#ff00ff","#0000ff","#ff0000","#000000"]},"legend":null}}},
  {"mark":{"type":"line","opacity":0},"encoding":{
    "x":{"field":"r","type":"quantitative","axis":{"orient":"bottom","values":[0.5,1.5,2.5,3.5,4.5],"tickSize":6,"labels":false,"title":null}},
    "y":{"field":"v","type":"quantitative","axis":{"orient":"left","values":[4,12],"tickSize":9,"labels":false,"title":null}}}},
  {"mark":{"type":"line","opacity":0},"encoding":{
    "x":{"field":"r","type":"quantitative","axis":{"orient":"top","values":[1,2,3,4],"tickSize":-10,"labels":false,"title":null}},
    "y":{"field":"v","type":"quantitative","axis":{"orient":"right","values":[8],"tickSize":-14,"labels":false,"title":null}}}},
  {"mark":{"type":"line","opacity":0},"encoding":{
    "x":{"field":"r","type":"quantitative","axis":{"orient":"top","values":[0.5,1.5,2.5,3.5,4.5],"tickSize":-6,"labels":false,"title":null}},
    "y":{"field":"v","type":"quantitative","axis":{"orient":"right","values":[4,12],"tickSize":-8,"labels":false,"title":null}}}},
  {"transform":[{"filter":"datum.s === 'model4' && datum.r === 0"}],
   "mark":{"type":"text","font":"DejaVu Sans","fontSize":27,"color":"#111","align":"center","baseline":"middle"},
   "encoding":{"x":{"datum":0.51,"type":"quantitative","axis":null},"y":{"datum":12.7,"type":"quantitative","axis":null},"text":{"value":"N-H"}}}
 ]},
{"width":868,"height":116,"transform":[{"filter":"datum.p === 'H-H'"}],
 "resolve":{"axis":{"x":"independent","y":"independent"}},
 "layer":[
  {"mark":{"type":"line","strokeWidth":3,"interpolate":"monotone"},
   "encoding":{
    "x":{"field":"r","type":"quantitative","scale":{"domain":[0,5],"nice":false,"zero":false},"axis":{"orient":"bottom","values":[0,1,2,3,4,5],"tickSize":11,"labelPadding":10,"title":"r(Å )","titleFontSize":26,"titlePadding":17}},
    "y":{"field":"v","type":"quantitative","scale":{"domain":[0,10],"nice":false,"zero":false},"axis":{"orient":"left","values":[0,4,8],"tickSize":16,"labelPadding":15,"title":null}},
    "color":{"field":"s","type":"nominal","scale":{"domain":["model4","model3","model2","model1","pure"],"range":["#138a13","#ff00ff","#0000ff","#ff0000","#000000"]},"legend":null}}},
  {"mark":{"type":"line","opacity":0},"encoding":{
    "x":{"field":"r","type":"quantitative","axis":{"orient":"bottom","values":[0.5,1.5,2.5,3.5,4.5],"tickSize":6,"labels":false,"title":null}},
    "y":{"field":"v","type":"quantitative","axis":{"orient":"left","values":[2,6],"tickSize":9,"labels":false,"title":null}}}},
  {"mark":{"type":"line","opacity":0},"encoding":{
    "x":{"field":"r","type":"quantitative","axis":{"orient":"top","values":[1,2,3,4],"tickSize":-10,"labels":false,"title":null}},
    "y":{"field":"v","type":"quantitative","axis":{"orient":"right","values":[4,8],"tickSize":-14,"labels":false,"title":null}}}},
  {"mark":{"type":"line","opacity":0},"encoding":{
    "x":{"field":"r","type":"quantitative","axis":{"orient":"top","values":[0.5,1.5,2.5,3.5,4.5],"tickSize":-6,"labels":false,"title":null}},
    "y":{"field":"v","type":"quantitative","axis":{"orient":"right","values":[2,6],"tickSize":-8,"labels":false,"title":null}}}},
  {"transform":[{"filter":"datum.s === 'model4' && datum.r === 0"}],
   "mark":{"type":"text","font":"DejaVu Sans","fontSize":27,"color":"#111","align":"center","baseline":"middle"},
   "encoding":{"x":{"datum":0.478,"type":"quantitative","axis":null},"y":{"datum":7.4,"type":"quantitative","axis":null},"text":{"value":"H-H"}}}
 ]}
]
}
